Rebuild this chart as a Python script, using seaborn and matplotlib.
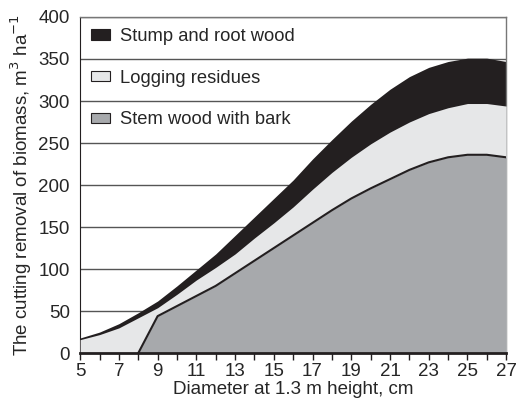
import numpy as np
import pandas as pd
import seaborn as sns
import matplotlib.pyplot as plt
from matplotlib.patches import Patch

# diameter classes, cm
diameter = [5, 6, 7, 8, 9, 10, 11, 12, 13, 14, 15, 16, 17, 18, 19, 20, 21, 22, 23, 24, 25, 26, 27]

# cumulative removal, m3/ha
stem = [0, 0, 0, 0, 44, 56, 68, 80, 95, 110, 125, 140, 155, 170, 184, 196, 207, 218, 227, 233, 236, 236, 233]
stem_resid = [16, 22, 30, 42, 54, 70, 87, 102, 118, 137, 155, 174, 195, 215, 233, 249, 263, 275, 285, 292, 297, 297, 294]
total = [18, 25, 35, 48, 62, 80, 99, 118, 140, 162, 184, 206, 231, 254, 276, 296, 314, 329, 340, 347, 351, 351, 347]

labels = ["Stump and root wood", "Logging residues", "Stem wood with bark"]
colors = ["#231f20", "#e6e7e8", "#a7a9ac"]

df = pd.DataFrame({"d": diameter, "stem": stem, "resid": stem_resid, "total": total})

sns.set_style("white")
plt.rcParams["font.family"] = ["Liberation Sans", "DejaVu Sans"]
fs = 13.5

fig, ax = plt.subplots(figsize=(5.24, 4.04), dpi=100)
fig.subplots_adjust(left=0.153, right=0.966, bottom=0.126, top=0.958)

ax.fill_between(df.d, 0, df.total, color=colors[0], lw=0, zorder=2)
ax.fill_between(df.d, 0, df.resid, color=colors[1], lw=0, zorder=3)
ax.fill_between(df.d, 0, df.stem, color=colors[2], lw=0, zorder=4)

# outline of stem wood (from the point it leaves zero)
st = df[df.d >= 8]
sns.lineplot(data=st, x="d", y="stem", color="#231f20", lw=1.5, ax=ax, zorder=5)

ax.set_xlim(5, 27)
ax.set_ylim(0, 400)
ax.set_xticks(range(5, 28, 2))
ax.set_xticks(range(5, 28), minor=True)
ax.set_yticks(range(0, 401, 50))
ax.tick_params(axis="x", which="both", direction="out", length=5, width=1,
               bottom=True, color="#231f20", labelsize=fs, pad=2)
ax.tick_params(axis="y", left=False, labelsize=fs, pad=4)

ax.yaxis.grid(True, color="#555555", lw=1)
ax.set_axisbelow(True)

for s in ["top", "right"]:
    ax.spines[s].set_color("#777777")
    ax.spines[s].set_linewidth(1)
ax.spines["left"].set_color("#231f20")
ax.spines["bottom"].set_color("#231f20")
ax.spines["bottom"].set_linewidth(2)
ax.spines["bottom"].set_zorder(6)

ax.set_xlabel("Diameter at 1.3 m height, cm", fontsize=fs, labelpad=1)
ax.set_ylabel(r"The cutting removal of biomass, m$^3$ ha$^{-1}$", fontsize=fs, labelpad=3)

handles = [Patch(facecolor=c, edgecolor="#231f20", lw=0.8) for c in colors]
ax.legend(handles, labels, loc="upper left", frameon=False, fontsize=13.2,
          handlelength=1.0, handleheight=0.5, handletextpad=0.55,
          labelspacing=1.35, borderaxespad=0.2, bbox_to_anchor=(0.0, 1.0))

fig.savefig("out.png", dpi=100)
